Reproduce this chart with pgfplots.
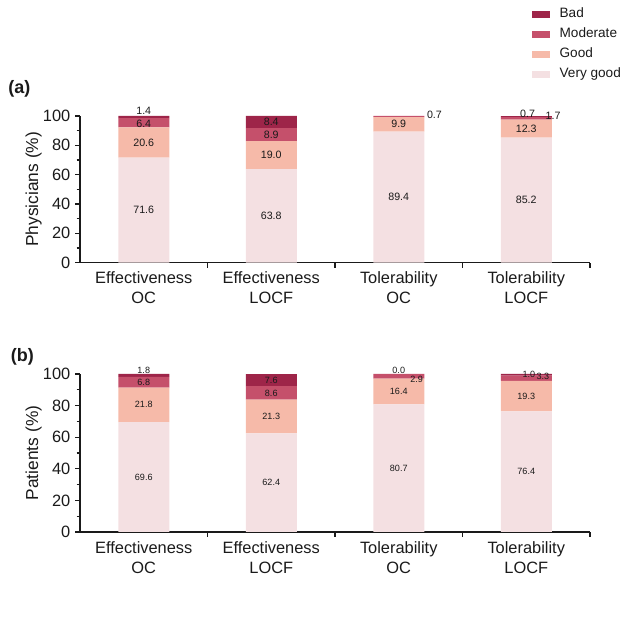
\documentclass[border=0pt]{standalone}
\usepackage{fontspec}
\setmainfont{Liberation Sans}
\usepackage{pgfplots}
\usepackage{pgfplotstable}
\pgfplotsset{compat=1.18}

\definecolor{cbad}{HTML}{9E2549}
\definecolor{cmod}{HTML}{C5506B}
\definecolor{cgood}{HTML}{F6BAA9}
\definecolor{cvg}{HTML}{F4E0E2}
\definecolor{ctxt}{HTML}{1A1A1A}

% panel (a): physicians
\pgfplotstableread{
x vg good mod bad
0 71.6 20.6 6.4 1.4
1 63.8 19.0 8.9 8.4
2 89.4 9.9 0.7 0.0
3 85.2 12.3 1.7 0.7
}\tabA
% panel (b): patients
\pgfplotstableread{
x vg good mod bad
0 69.6 21.8 6.8 1.8
1 62.4 21.3 8.6 7.6
2 80.7 16.4 2.9 0.0
3 76.4 19.3 3.3 1.0
}\tabB
% value label positions
\pgfplotstableread{
x y lab
0 35.8 71.6
0 81.9 20.6
0 94.9 6.4
0 103.4 1.4
1 31.9 63.8
1 73.3 19.0
1 87.2 8.9
1 95.8 8.4
2 44.7 89.4
2 94.35 9.9
2.28 100.8 0.7
3 42.6 85.2
3 91.35 12.3
3.01 101.6 0.7
3.21 100.0 1.7
}\labA
\pgfplotstableread{
x y lab
0 34.8 69.6
0 80.5 21.8
0 94.8 6.8
0 102.6 1.8
1 31.2 62.4
1 73.05 21.3
1 88.0 8.6
1 95.8 7.6
2 40.35 80.7
2 88.9 16.4
2.14 96.4 2.9
2 102.3 0.0
3 38.2 76.4
3 86.05 19.3
3.02 99.7 1.0
3.13 98.6 3.3
}\labB

\pgfplotsset{
  mybase/.style={scale only axis, width=382.5pt, xmin=-0.5, xmax=3.5, ymin=0, ymax=100, clip=false},
  mychart/.style={mybase,
    ybar stacked, bar width=0.4,
    axis x line*=bottom, axis y line*=left,
    axis line style={line width=0.8pt, color=ctxt},
    xtick={0.5,1.5,2.5,3.5}, xticklabels={},
    extra x ticks={0,1,2,3},
    extra x tick labels={{Effectiveness\\OC},{Effectiveness\\LOCF},{Tolerability\\OC},{Tolerability\\LOCF}},
    extra x tick style={tick style={draw=none}},
    x tick label style={align=center, font=\fontsize{12.3}{15}\selectfont, text=ctxt, inner sep=1pt, yshift=-2pt},
    ytick={0,20,...,100}, minor y tick num=1,
    y tick label style={font=\fontsize{12.3}{14}\selectfont, text=ctxt},
    /pgf/number format/assume math mode=true,
    tick align=outside, major tick length=3.75pt, minor tick length=2.5pt,
    tick style={line width=0.8pt, color=ctxt},
    ylabel style={font=\fontsize{13}{15}\selectfont, text=ctxt},
    ylabel shift=-6pt,
  },
  mylabs/.style={mybase, hide axis},
  legimg/.style={legend image code/.code={\fill[##1] (0pt,-2.6pt) rectangle (13.5pt,2.6pt);}},
  labplot/.style={only marks, mark=*, mark size=0pt, mark options={draw=none, fill=none},
    nodes near coords, point meta=explicit symbolic,
    every node near coord/.append style={anchor=center, inner sep=0pt, text=ctxt, font=#1}},
}

\begin{document}
\begin{tikzpicture}
\path (0,0) rectangle (472.5pt,472.5pt);

% ---------- panel (a) ----------
\begin{axis}[mychart, height=110pt, at={(60pt,275.5pt)}, anchor=south west,
  ylabel={Physicians (\%)},
  reverse legend, legend cell align=left,
  legend style={at={(0.885,1.74)}, anchor=north west, draw=none, fill=none,
    inner sep=0pt, row sep=5pt, font=\fontsize{10.2}{12}\selectfont,
    nodes={inner sep=0pt, text height=7.5pt, text depth=2.5pt, text=ctxt},
    /tikz/every odd column/.append style={column sep=7.5pt}},
  ]
\addplot[fill=cvg, draw=none, legimg] table[x=x, y=vg]{\tabA};
\addlegendentry{Very good}
\addplot[fill=cgood, draw=none, legimg] table[x=x, y=good]{\tabA};
\addlegendentry{Good}
\addplot[fill=cmod, draw=none, legimg] table[x=x, y=mod]{\tabA};
\addlegendentry{Moderate}
\addplot[fill=cbad, draw=none, legimg] table[x=x, y=bad]{\tabA};
\addlegendentry{Bad}
\end{axis}
\begin{axis}[mylabs, height=110pt, at={(60pt,275.5pt)}, anchor=south west]
\addplot[labplot={\fontsize{8}{9}\selectfont}] table[x=x, y=y, meta=lab]{\labA};
\end{axis}

% ---------- panel (b) ----------
\begin{axis}[mychart, height=118.5pt, at={(60pt,73.5pt)}, anchor=south west,
  ylabel={Patients (\%)}]
\addplot[fill=cvg, draw=none] table[x=x, y=vg]{\tabB};
\addplot[fill=cgood, draw=none] table[x=x, y=good]{\tabB};
\addplot[fill=cmod, draw=none] table[x=x, y=mod]{\tabB};
\addplot[fill=cbad, draw=none] table[x=x, y=bad]{\tabB};
\end{axis}
\begin{axis}[mylabs, height=118.5pt, at={(60pt,73.5pt)}, anchor=south west]
\addplot[labplot={\fontsize{6.8}{8}\selectfont}] table[x=x, y=y, meta=lab]{\labB};
\end{axis}

\node[anchor=west, font=\bfseries\fontsize{13.5}{15}\selectfont, text=ctxt, inner sep=0pt] at (6pt,406pt) {(a)};
\node[anchor=west, font=\bfseries\fontsize{13.5}{15}\selectfont, text=ctxt, inner sep=0pt] at (8pt,205pt) {(b)};
\end{tikzpicture}
\end{document}
